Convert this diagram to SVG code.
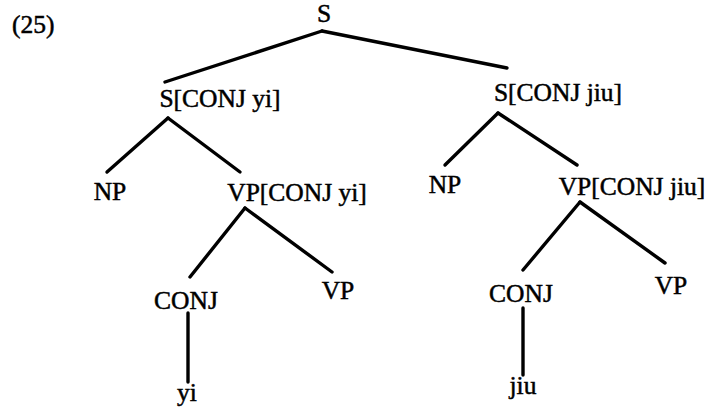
<svg xmlns="http://www.w3.org/2000/svg" width="707" height="413" viewBox="0 0 707 413">
<style>
text{font-family:"Liberation Serif","Times New Roman",serif;font-size:25.5px;fill:#000;stroke:#000;stroke-width:0.5;text-anchor:middle}
.e line{stroke:#000;stroke-width:3.4;stroke-linecap:round}
</style>
<rect width="707" height="413" fill="#fff"/>
<text x="12" y="33" style="text-anchor:start">(25)</text>
<g class="e" id="connectors">
<line x1="322" y1="31" x2="165" y2="82"/>
<line x1="322" y1="31" x2="507" y2="68"/>
<line x1="168" y1="118" x2="107" y2="172"/>
<line x1="168" y1="118" x2="240" y2="172"/>
<line x1="498" y1="113" x2="445" y2="165"/>
<line x1="498" y1="113" x2="577" y2="165"/>
<line x1="245" y1="208" x2="190" y2="277"/>
<line x1="245" y1="208" x2="332" y2="272"/>
<line x1="580" y1="202" x2="523" y2="270"/>
<line x1="580" y1="202" x2="665" y2="263"/>
<line x1="188" y1="313" x2="188" y2="382"/>
<line x1="523" y1="308" x2="523" y2="375"/>
</g>
<g id="n-S"><text x="324" y="22">S</text></g>
<g id="n-Syi"><text x="220" y="107">S[CONJ yi]</text></g>
<g id="n-Sjiu"><text x="558" y="101">S[CONJ jiu]</text></g>
<g id="n-NP1"><text x="110" y="200">NP</text></g>
<g id="n-VPyi"><text x="297" y="201">VP[CONJ yi]</text></g>
<g id="n-NP2"><text x="445" y="193">NP</text></g>
<g id="n-VPjiu"><text x="632" y="195">VP[CONJ jiu]</text></g>
<g id="n-CONJ1"><text x="186" y="309">CONJ</text></g>
<g id="n-VP1"><text x="338" y="299">VP</text></g>
<g id="n-yi"><text x="187" y="401">yi</text></g>
<g id="n-CONJ2"><text x="521" y="302">CONJ</text></g>
<g id="n-VP2"><text x="671" y="294">VP</text></g>
<g id="n-jiu"><text x="523" y="394">jiu</text></g>
</svg>
